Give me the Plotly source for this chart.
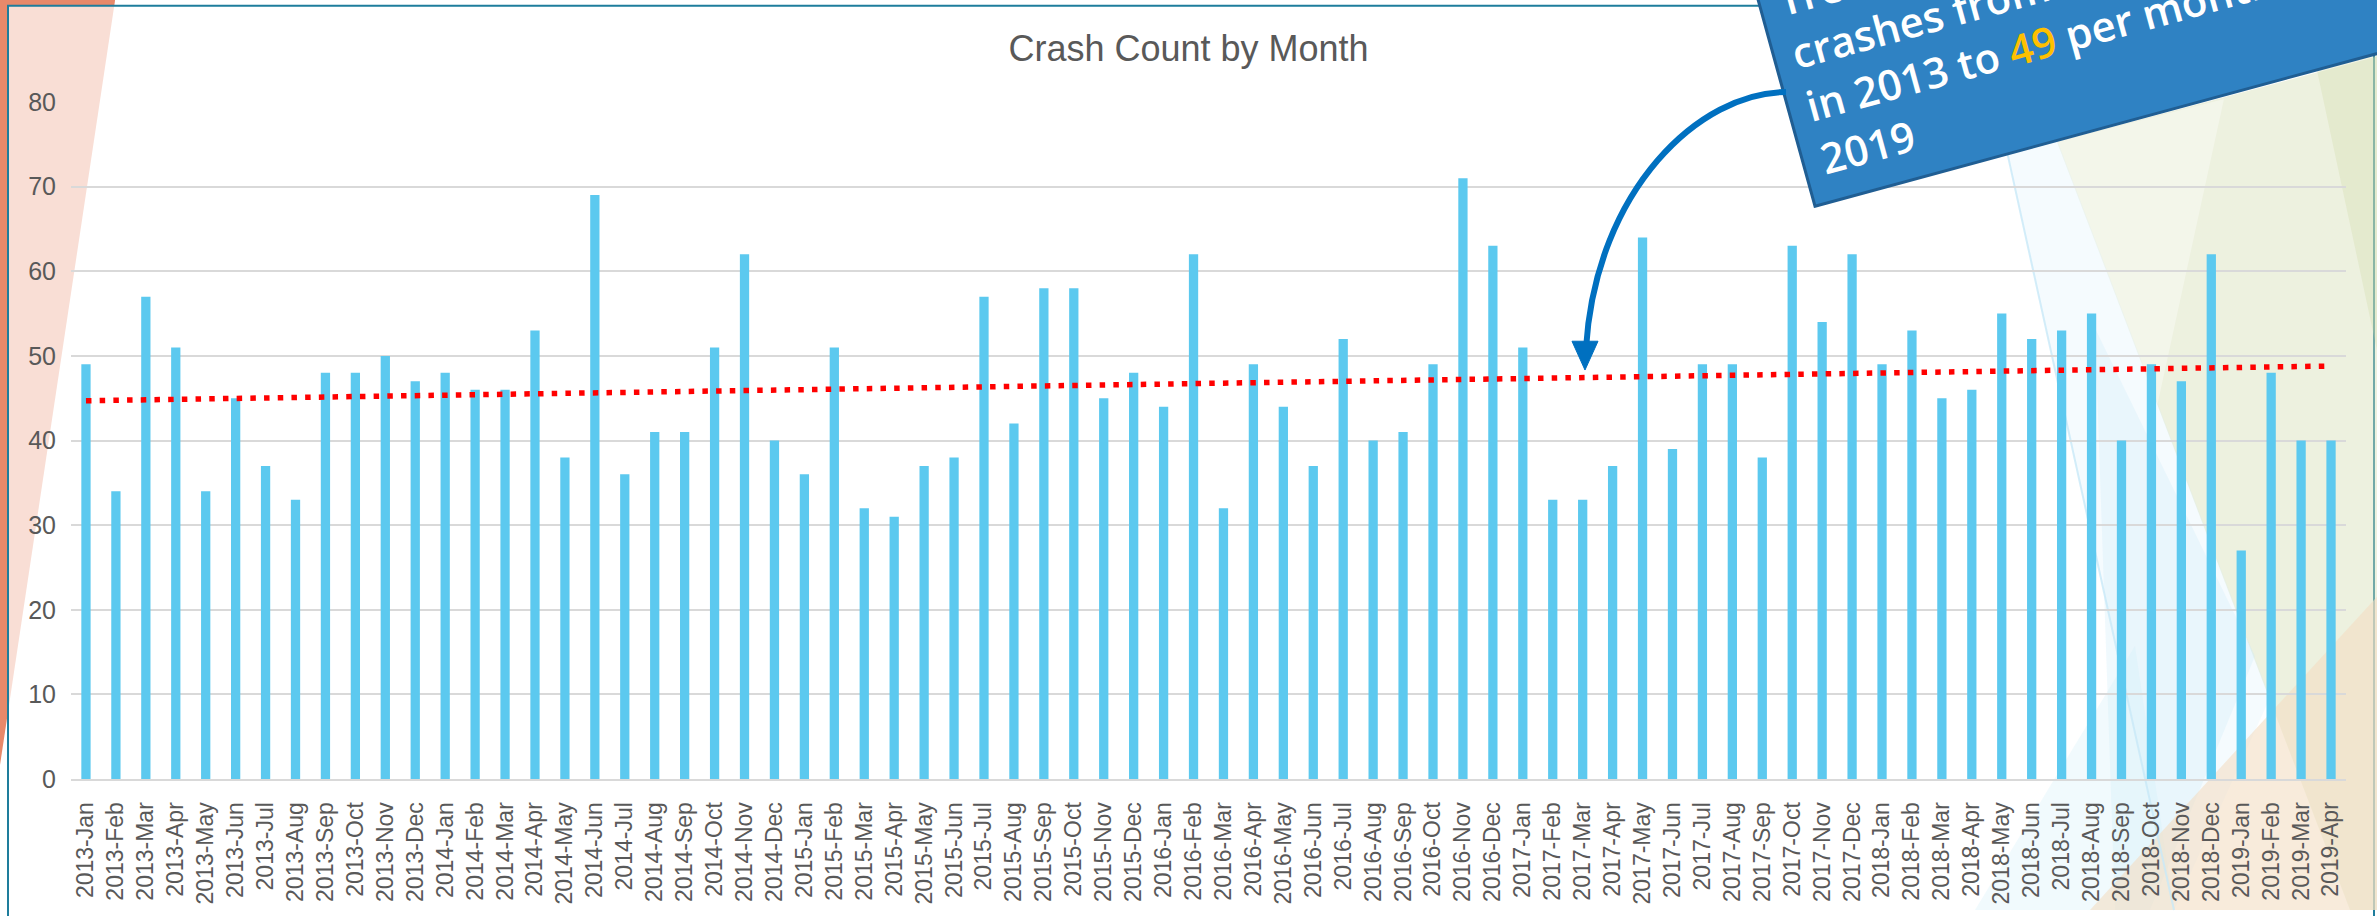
import plotly.graph_objects as go

# ---------------- data ----------------
months = [
    "2013-Jan", "2013-Feb", "2013-Mar", "2013-Apr", "2013-May", "2013-Jun", "2013-Jul", "2013-Aug", "2013-Sep", "2013-Oct", "2013-Nov", "2013-Dec",
    "2014-Jan", "2014-Feb", "2014-Mar", "2014-Apr", "2014-May", "2014-Jun", "2014-Jul", "2014-Aug", "2014-Sep", "2014-Oct", "2014-Nov", "2014-Dec",
    "2015-Jan", "2015-Feb", "2015-Mar", "2015-Apr", "2015-May", "2015-Jun", "2015-Jul", "2015-Aug", "2015-Sep", "2015-Oct", "2015-Nov", "2015-Dec",
    "2016-Jan", "2016-Feb", "2016-Mar", "2016-Apr", "2016-May", "2016-Jun", "2016-Jul", "2016-Aug", "2016-Sep", "2016-Oct", "2016-Nov", "2016-Dec",
    "2017-Jan", "2017-Feb", "2017-Mar", "2017-Apr", "2017-May", "2017-Jun", "2017-Jul", "2017-Aug", "2017-Sep", "2017-Oct", "2017-Nov", "2017-Dec",
    "2018-Jan", "2018-Feb", "2018-Mar", "2018-Apr", "2018-May", "2018-Jun", "2018-Jul", "2018-Aug", "2018-Sep", "2018-Oct", "2018-Nov", "2018-Dec",
    "2019-Jan", "2019-Feb", "2019-Mar", "2019-Apr",
]
crashes = [
    49, 34, 57, 51, 34, 45, 37, 33, 48, 48, 50, 47,
    48, 46, 46, 53, 38, 69, 36, 41, 41, 51, 62, 40,
    36, 51, 32, 31, 37, 38, 57, 42, 58, 58, 45, 48,
    44, 62, 32, 49, 44, 37, 52, 40, 41, 49, 71, 63,
    51, 33, 33, 37, 64, 39, 49, 49, 38, 63, 54, 62,
    49, 53, 45, 46, 55, 52, 53, 55, 40, 49, 47, 62,
    27, 48, 40, 40,
]
# linear trendline end values
trend_months = [months[0], months[-1]]
trend_values = [44.7, 48.8]
y_ticks = [0, 10, 20, 30, 40, 50, 60, 70, 80]

title_text = "Crash Count by Month"
callout_text = ("Trend shows an increase in<br>crashes from 45 per month<br>"
                "in 2013 to <span style='color:#FFC000'>49</span> per month in<br>2019")

# ---------------- geometry helpers ----------------
W, H = 2377, 916
L, R, T, B = 71, 31, 102, 132
PW, PH = W - L - R, H - T - B


def px(x):
    return (x - L) / PW


def py(y):
    return (H - B - y) / PH


def poly(pts):
    return "M " + " L ".join(f"{px(x):.5f},{py(y):.5f}" for x, y in pts) + " Z"


fig = go.Figure()
fig.add_trace(go.Bar(x=months, y=crashes, marker=dict(color="#5CC9EF", line=dict(width=0)),
                     hoverinfo="x+y", name="Crashes"))
fig.add_trace(go.Scatter(x=trend_months, y=trend_values, mode="lines",
                         line=dict(color="#FF0000", width=5.5, dash="5.5px,8.2px"),
                         hoverinfo="skip", name="Trend"))

shapes = []
# slide background: orange wedge on the left
shapes.append(dict(type="path", xref="paper", yref="paper", layer="below",
                   path=poly([(-5, -5), (115, -5), (115, 0), (0, 770), (-5, 770)]),
                   fillcolor="#E8896A", line=dict(width=0)))
# chart frame (semi-transparent white)
shapes.append(dict(type="rect", xref="paper", yref="paper", layer="below",
                   x0=px(8), x1=px(2374), y0=py(1000), y1=py(5),
                   fillcolor="rgba(255,255,255,0.72)", line=dict(color="#1E7D9C", width=2)))
# right-hand decorative facets
shapes.append(dict(type="path", xref="paper", yref="paper", layer="below",
                   path=poly([(2057, 142), (2400, 50), (2400, 916), (2350, 916)]),
                   fillcolor="rgba(214,223,184,0.45)", line=dict(width=0)))
shapes.append(dict(type="path", xref="paper", yref="paper", layer="below",
                   path=poly([(2057, 142), (2224, 99), (2157, 409)]),
                   fillcolor="rgba(255,255,255,0.35)", line=dict(width=0)))
shapes.append(dict(type="path", xref="paper", yref="paper", layer="below",
                   path=poly([(2317, 70), (2400, 48), (2400, 460)]),
                   fillcolor="rgba(205,214,160,0.28)", line=dict(width=0)))
shapes.append(dict(type="path", xref="paper", yref="paper", layer="below",
                   path=poly([(2007, 152), (2057, 140), (2270, 702), (2174, 916)]),
                   fillcolor="rgba(215,238,250,0.25)", line=dict(width=0)))
shapes.append(dict(type="path", xref="paper", yref="paper", layer="below",
                   path=poly([(2095, 330), (2255, 660), (2150, 916), (2115, 916)]),
                   fillcolor="rgba(205,235,248,0.30)", line=dict(width=0)))
shapes.append(dict(type="path", xref="paper", yref="paper", layer="below",
                   path=poly([(1975, 916), (2135, 650), (2174, 916)]),
                   fillcolor="rgba(210,237,250,0.30)", line=dict(width=0)))
shapes.append(dict(type="path", xref="paper", yref="paper", layer="below",
                   path=poly([(2400, 575), (2400, 916), (2090, 916)]),
                   fillcolor="rgba(244,222,195,0.60)", line=dict(width=0)))
shapes.append(dict(type="line", xref="paper", yref="paper", layer="below",
                   x0=px(2007), y0=py(152), x1=px(2174), y1=py(916),
                   line=dict(color="rgba(200,232,247,0.8)", width=2)))

# callout box (rotated rectangle)
ux, uy = 0.9646, -0.2639
vx, vy = -0.2639, -0.9646
blx, bly = 1815, 207
bw, bh = 900, 420
box = [(blx, bly), (blx + bw * ux, bly + bw * uy),
       (blx + bw * ux + bh * vx, bly + bw * uy + bh * vy), (blx + bh * vx, bly + bh * vy)]
shapes.append(dict(type="path", xref="paper", yref="paper", layer="above",
                   path=poly(box), fillcolor="#2F82C3", line=dict(color="#205E93", width=3)))

# curved arrow
p0, p1, p2, p3 = (1786, 92), (1700, 92), (1596, 190), (1586, 350)
arrow_path = (f"M {px(p0[0]):.5f},{py(p0[1]):.5f} C {px(p1[0]):.5f},{py(p1[1]):.5f} "
              f"{px(p2[0]):.5f},{py(p2[1]):.5f} {px(p3[0]):.5f},{py(p3[1]):.5f}")
shapes.append(dict(type="path", xref="paper", yref="paper", layer="above",
                   path=arrow_path, line=dict(color="#0070C0", width=6)))
shapes.append(dict(type="path", xref="paper", yref="paper", layer="above",
                   path=poly([(1572, 343), (1598, 343), (1585, 372)]),
                   fillcolor="#0070C0", line=dict(color="#0070C0", width=1)))

annotations = [dict(
    text=callout_text, xref="paper", yref="paper",
    x=px(1768), y=py(190), xanchor="left", yanchor="bottom",
    textangle=-15.3, align="left", showarrow=False,
    font=dict(family="Open Sans", size=42, color="white", weight=600),
)]

fig.update_layout(
    width=W, height=H,
    margin=dict(l=L, r=R, t=T, b=B, pad=0),
    paper_bgcolor="white", plot_bgcolor="rgba(0,0,0,0)",
    showlegend=False, bargap=0.69,
    title=dict(text=title_text, x=0.5, xanchor="center", xref="container",
               y=1 - 48 / H, yref="container", yanchor="middle",
               font=dict(family="Liberation Sans", size=36, color="#595959")),
    shapes=shapes, annotations=annotations,
    xaxis=dict(type="category", tickmode="array", tickvals=months, ticktext=months,
               tickangle=-90, ticks="", showgrid=False, showline=True,
               linecolor="#D9D9D9", linewidth=2, ticklabelstandoff=12,
               tickfont=dict(family="Liberation Sans", size=23, color="#595959")),
    yaxis=dict(range=[0, 80], tickmode="array", tickvals=y_ticks, ticks="",
               showgrid=True, gridcolor="#D9D9D9", gridwidth=2, zeroline=False,
               showline=False, ticklabelstandoff=14,
               tickfont=dict(family="Liberation Sans", size=25, color="#595959")),
)

fig.write_html("out.html", config={"displayModeBar": False},
               post_script="document.body.style.margin='0';document.body.style.overflow='hidden';")
